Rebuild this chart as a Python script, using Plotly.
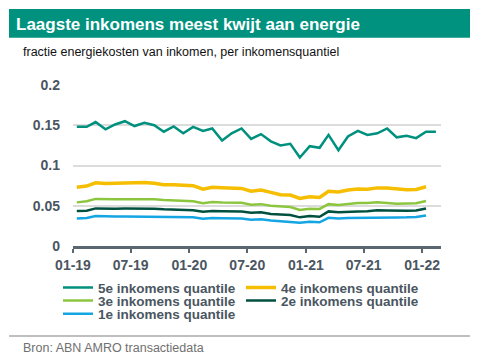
import pandas as pd
import plotly.graph_objects as go

# ---- data (fraction of income spent on energy, monthly) ----
start_month = "2019-01"
q5 = [0.148, 0.148, 0.154, 0.145, 0.151, 0.155, 0.149, 0.153, 0.150, 0.142,
      0.1485, 0.140, 0.148, 0.143, 0.146, 0.131, 0.140, 0.146, 0.133, 0.139,
      0.130, 0.125, 0.127, 0.110, 0.124, 0.122, 0.138, 0.119, 0.136, 0.143,
      0.138, 0.140, 0.146, 0.135, 0.137, 0.134, 0.142, 0.142]
q4 = [0.073, 0.0745, 0.0785, 0.0775, 0.078, 0.0785, 0.0785, 0.079, 0.078, 0.076,
      0.076, 0.076, 0.075, 0.0705, 0.073, 0.0725, 0.072, 0.0715, 0.068, 0.0695,
      0.0666, 0.0637, 0.0633, 0.059, 0.0612, 0.0604, 0.068, 0.067, 0.0695, 0.0707,
      0.0705, 0.0722, 0.072, 0.0705, 0.0698, 0.0703, 0.0736]
q3 = [0.0542, 0.0555, 0.0585, 0.058, 0.058, 0.058, 0.058, 0.058, 0.058, 0.057,
      0.0565, 0.0558, 0.0555, 0.053, 0.0546, 0.054, 0.054, 0.0537, 0.0513, 0.052,
      0.050, 0.0488, 0.0484, 0.0447, 0.0463, 0.046, 0.052, 0.0509, 0.0525, 0.0533,
      0.0533, 0.0542, 0.0535, 0.0525, 0.0527, 0.053, 0.0558]
q2 = [0.0434, 0.0437, 0.0467, 0.0463, 0.0463, 0.0465, 0.0465, 0.0465, 0.0463, 0.0455,
      0.045, 0.0447, 0.0445, 0.0426, 0.0434, 0.0432, 0.043, 0.0428, 0.0413, 0.042,
      0.0397, 0.039, 0.0385, 0.0356, 0.0372, 0.0364, 0.043, 0.0418, 0.0426, 0.043,
      0.0432, 0.0443, 0.044, 0.0435, 0.0437, 0.044, 0.0467]
q1 = [0.0343, 0.0348, 0.0372, 0.0365, 0.0365, 0.0365, 0.0365, 0.0365, 0.0363, 0.036,
      0.0358, 0.0357, 0.0356, 0.0339, 0.0347, 0.0345, 0.0343, 0.0342, 0.0327, 0.0333,
      0.0318, 0.031, 0.0306, 0.029, 0.0302, 0.0294, 0.035, 0.0343, 0.0347, 0.035,
      0.0352, 0.0356, 0.0355, 0.0355, 0.0356, 0.036, 0.038]

names = ["5e inkomens quantile", "4e inkomens quantile", "3e inkomens quantile",
         "2e inkomens quantile", "1e inkomens quantile"]
series = [q5, q4, q3, q2, q1]
colors = ["#00907E", "#F5BE00", "#8CC63F", "#00503F", "#14A5E3"]
widths = [2.5, 3.5, 2.5, 2.5, 2.5]

tick_vals = ["2019-01-01", "2019-07-01", "2020-01-01", "2020-07-01",
             "2021-01-01", "2021-07-01", "2022-01-01"]
tick_text = ["01-19", "07-19", "01-20", "07-20", "01-21", "07-21", "01-22"]
y_ticks = [0, 0.05, 0.1, 0.15, 0.2]
y_text = ["0", "0.05", "0.1", "0.15", "0.2"]

# ---- layout geometry (pixels) ----
W, H = 483, 363
L, R, T, B = 73, 441, 85, 246


def px(x):
    return (x - L) / (R - L)


def py(y):
    return (B - y) / (B - T)


FONT = "Liberation Sans, Arial, sans-serif"
TXT = "#4A5661"

# legend slot (left x of legend box, centre y) for each series
leg_pos = [(58, 287.7), (241, 287.7), (58, 300.7), (241, 300.7), (58, 314)]
leg_ids = ["legend", "legend2", "legend3", "legend4", "legend5"]

fig = go.Figure()
for name, vals, c, w, lg in zip(names, series, colors, widths, leg_ids):
    dates = pd.date_range(start_month + "-01", periods=len(vals), freq="MS") + pd.Timedelta(days=12)
    fig.add_trace(go.Scatter(x=dates, y=vals, name=name, mode="lines",
                             line=dict(color=c, width=w), legend=lg))

leg_common = dict(orientation="h", xanchor="left", yanchor="middle",
                  bgcolor="rgba(0,0,0,0)", itemwidth=30, tracegroupgap=0,
                  font=dict(family=FONT, size=13.5, color=TXT, weight="bold"))
legends = {lg: dict(x=px(x), y=py(y), **leg_common) for lg, (x, y) in zip(leg_ids, leg_pos)}

fig.update_layout(
    width=W, height=H,
    margin=dict(l=L, r=W - R, t=T, b=H - B, pad=0, autoexpand=False),
    paper_bgcolor="white", plot_bgcolor="white",
    showlegend=True,
    **legends,
    xaxis=dict(type="date", range=["2019-01-01", "2022-03-01"],
               tickvals=tick_vals, ticktext=tick_text,
               showgrid=False, showline=True, linecolor="#5B6770", linewidth=2.5,
               ticks="outside", ticklen=4, tickwidth=2, tickcolor="#5B6770",
               tickfont=dict(family=FONT, size=14, color=TXT, weight="bold"),
               zeroline=False, fixedrange=True),
    yaxis=dict(range=[0, 0.2], tickvals=y_ticks, ticktext=y_text,
               showgrid=True, gridcolor="#DCDCDC", gridwidth=1.5,
               zeroline=False, showline=False, ticks="", ticklabelstandoff=12,
               tickfont=dict(family=FONT, size=14, color=TXT, weight="bold"),
               fixedrange=True),
    shapes=[
        dict(type="rect", xref="paper", yref="paper",
             x0=px(9), x1=px(470), y0=py(37.7), y1=py(9),
             fillcolor="#00927F", line=dict(width=0), layer="below"),
        dict(type="line", xref="paper", yref="paper",
             x0=px(9), x1=px(470), y0=py(336), y1=py(336),
             line=dict(color="#BFBFBF", width=2)),
    ],
    annotations=[
        dict(text="Laagste inkomens meest kwijt aan energie", xref="paper", yref="paper",
             x=px(14), y=py(24), xanchor="left", yanchor="middle", showarrow=False,
             font=dict(family=FONT, size=17, color="white", weight="bold")),
        dict(text="fractie energiekosten van inkomen, per inkomensquantiel",
             xref="paper", yref="paper", x=px(21), y=py(51.5),
             xanchor="left", yanchor="middle", showarrow=False,
             font=dict(family=FONT, size=12.5, color="#111111")),
        dict(text="Bron: ABN AMRO transactiedata", xref="paper", yref="paper",
             x=px(21), y=py(347.5), xanchor="left", yanchor="middle", showarrow=False,
             font=dict(family=FONT, size=12.5, color="#707070")),
    ],
)

fig.write_html(
    "out.html",
    config={"displayModeBar": False},
    post_script="document.body.style.margin='0';document.body.style.overflow='hidden';",
)
